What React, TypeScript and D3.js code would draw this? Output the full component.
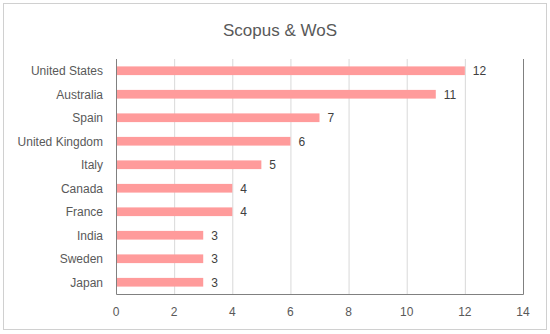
import React from "react";
import * as d3 from "d3";

const countries = [
  "United States",
  "Australia",
  "Spain",
  "United Kingdom",
  "Italy",
  "Canada",
  "France",
  "India",
  "Sweden",
  "Japan",
];
const counts = [12, 11, 7, 6, 5, 4, 4, 3, 3, 3];
const xTicks = [0, 2, 4, 6, 8, 10, 12, 14];

const width = 550,
  height = 334;
const margin = { top: 59, right: 27, bottom: 40, left: 116 };
const font = "'Liberation Sans', Arial, sans-serif";

const App = () => {
  const x = d3
    .scaleLinear()
    .domain([0, 14])
    .range([margin.left, width - margin.right]);

  const y = d3
    .scaleBand()
    .domain(countries)
    .range([margin.top, height - margin.bottom])
    .paddingInner(0.63)
    .paddingOuter(0.315);

  const data = countries.map((c, i) => ({ name: c, value: counts[i] }));
  const bottom = height - margin.bottom;

  return (
    <svg
      width={width}
      height={height}
      style={{ position: "absolute", left: 0, top: 0, background: "#fff" }}
    >
      <rect x={3.5} y={3.5} width={543} height={326} fill="#fff" stroke="#d0d0d0" />
      <text
        x={width / 2 + 5}
        y={36}
        textAnchor="middle"
        fontFamily={font}
        fontSize={17}
        fill="#595959"
      >
        Scopus &amp; WoS
      </text>

      {/* grid */}
      <g>
        {xTicks.slice(1, -1).map((t) => (
          <line
            key={t}
            x1={x(t) + 0.5}
            x2={x(t) + 0.5}
            y1={margin.top}
            y2={bottom}
            stroke="#d9d9d9"
          />
        ))}
      </g>

      {/* bars */}
      <g>
        {data.map((d) => (
          <rect
            key={d.name}
            x={x(0)}
            y={y(d.name)}
            width={x(d.value) - x(0)}
            height={y.bandwidth()}
            fill="#ff9b9b"
          />
        ))}
      </g>

      {/* frame */}
      <path
        d={`M${x(0) + 0.5},${margin.top}V${bottom + 0.5}H${x(14) + 0.5}V${margin.top}`}
        fill="none"
        stroke="#808080"
      />

      {/* value labels */}
      <g fontFamily={font} fontSize={12} fill="#404040">
        {data.map((d) => (
          <text
            key={d.name}
            x={x(d.value) + 8}
            y={y(d.name) + y.bandwidth() / 2}
            dy="0.36em"
          >
            {d.value}
          </text>
        ))}
      </g>

      {/* category labels */}
      <g fontFamily={font} fontSize={12} fill="#595959" textAnchor="end">
        {data.map((d) => (
          <text
            key={d.name}
            x={margin.left - 13}
            y={y(d.name) + y.bandwidth() / 2}
            dy="0.36em"
          >
            {d.name}
          </text>
        ))}
      </g>

      {/* x tick labels */}
      <g fontFamily={font} fontSize={12} fill="#595959" textAnchor="middle">
        {xTicks.map((t) => (
          <text key={t} x={x(t)} y={bottom + 22}>
            {t}
          </text>
        ))}
      </g>
    </svg>
  );
};

export default App;
